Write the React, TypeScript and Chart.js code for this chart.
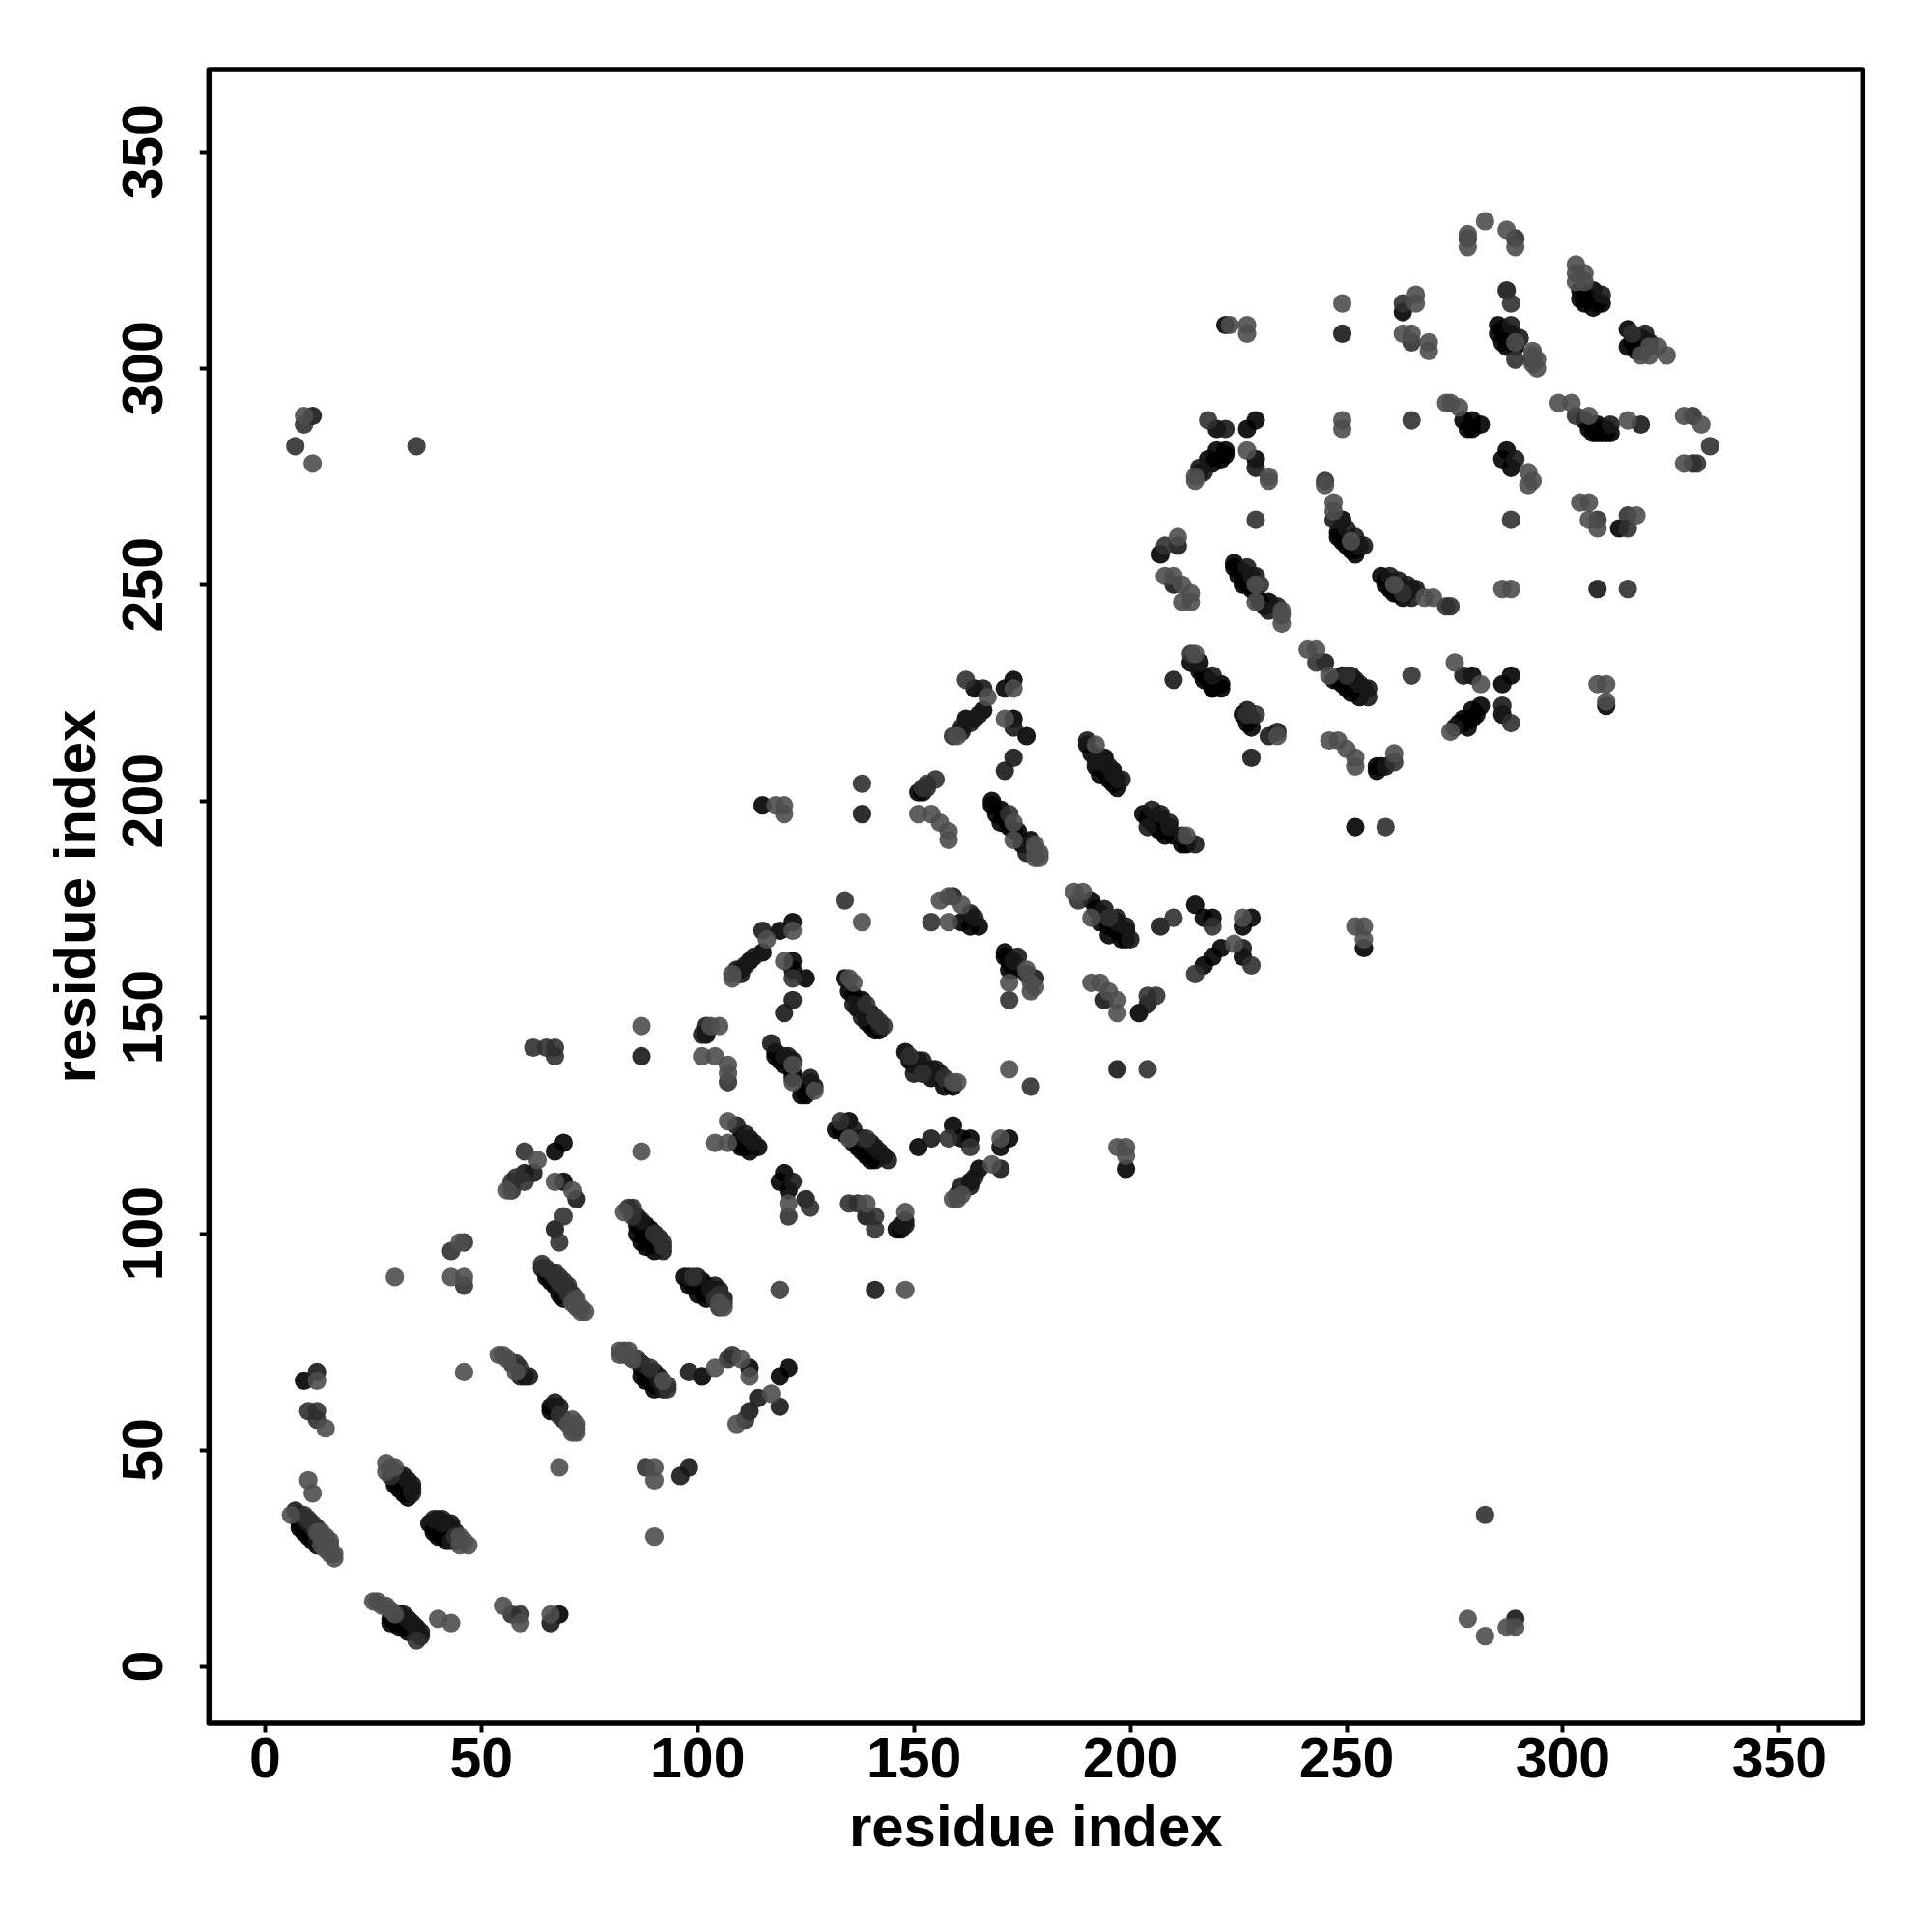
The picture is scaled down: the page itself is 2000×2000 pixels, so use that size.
import React, { useEffect, useRef } from "react";
import { Chart, registerables } from "chart.js";

Chart.register(...registerables);

const tickValues = [0, 50, 100, 150, 200, 250, 300, 350];
const axisTitle = "residue index";

const blackPoints = [
  [8,33],[9,32],[10,31],[11,30],
  [30,43],[31,42],[31,44],[32,43],[32,41],[33,42],[33,40],
  [38,33],[39,32],[40,31],[41,30],[42,33],[42,31],[43,32],
  [29,11],[30,11],[32,9],[35,9],[68,12],
  [60,67],[66,60],[66,59],[67,59],[9,66],
  [87,69],[88,68],[89,66],[90,65],[91,65],[101,67],[112,69],[119,67],[121,69],
  [86,102],[87,101],[88,102],[88,100],[89,101],[89,99],[90,98],[91,97],
  [97,90],[99,88],[100,88],[101,89],[101,87],[102,88],[102,86],
  [65,91],[66,90],[67,89],[69,87],[115,199],[151,202],
  [161,172],[163,171],[165,171],[119,170],[122,172],[115,165],[112,163],
  [122,163],[122,161],[125,159],
  [134,159],[138,154],[140,151],[141,147],[118,142],[122,137],[126,135],[125,132],
  [148,142],[151,140],[154,138],[159,134],
  [110,122],[114,120],[112,119],[135,126],[132,124],[137,122],[138,119],[143,118],[140,117],
  [151,120],[159,125],[161,122],[163,122],[170,120],[172,122],[165,115],[163,112],
  [67,119],[69,121],[69,112],[120,114],[119,112],[121,110],[146,101],
  [164,226],[171,226],[173,228],[166,221],[162,219],[173,219],[176,215],
  [168,200],[170,198],[170,195],[173,193],[177,191],
  [190,213],[194,210],[196,207],[193,206],[197,203],
  [203,197],[207,196],[207,193],[213,190],[214,232],[217,228],[219,226],[221,226],
  [226,220],[228,217],[249,229],[191,177],[193,172],[195,169],[199,170],[198,168],
  [215,176],[217,173],[219,173],[226,171],[228,173],[221,166],[219,164],[217,162],[226,164],
  [171,165],[172,161],[202,151],[199,115],
  [304,318],[307,318],[304,316],[309,315],[306,316],[263,313],[222,310],
  [285,310],[285,308],[288,308],[287,305],[315,309],[318,307],[315,305],[317,304],
  [220,286],[227,286],[229,288],[222,281],[220,281],[218,279],[229,279],
  [277,288],[279,288],[281,287],[279,286],[308,287],[305,288],[310,286],[307,285],[308,285],
  [287,281],[286,279],[288,277],[313,263],[249,265],[248,261],[250,259],[252,258],
  [258,252],[259,250],[265,249],[261,248],[224,255],[226,253],[224,254],[226,251],[229,248],[232,246],
  [207,257],[217,229],[221,227],[219,226],[249,227],[254,226],[252,226],[279,229],
  [286,227],[288,229],[281,222],[279,221],[277,219],[276,218],[286,220],[310,222],[257,208],[252,194],[254,166],
];

const blackEdgePoints = [
  [8,32],[9,31],[10,30],[11,29],[12,28],[30,42],[31,41],[32,40],[33,39],[39,31],[40,30],[42,29],
  [29,10],[31,9],[33,8],[87,67],[88,66],[90,64],[86,100],[87,98],[88,97],[90,96],
  [98,88],[100,86],[102,85],[65,90],[66,89],[67,88],[68,86],[69,85],
  [135,156],[136,155],[137,152],[139,149],[140,148],[142,147],
  [118,141],[119,140],[120,139],[122,136],[124,132],[125,133],
  [149,140],[150,139],[152,137],[154,136],[157,134],
  [133,124],[134,123],[136,121],[137,120],[139,118],[141,117],[109,121],[110,120],[111,120],
  [168,199],[169,197],[171,196],[172,194],[174,193],[175,190],
  [191,211],[192,208],[194,207],[195,205],[196,204],
  [204,196],[205,195],[206,194],[208,192],[210,192],[212,190],
  [192,175],[193,174],[195,171],[197,170],[199,168],[171,164],[172,163],[173,161],
  [216,230],[218,228],[219,227],[227,218],[228,219],
  [225,252],[226,250],[227,250],[228,249],[230,246],[231,245],
  [248,262],[249,260],[251,258],[252,257],[259,251],[260,249],[262,248],[263,247],
  [247,228],[248,228],[250,226],[251,225],[253,224],
  [286,306],[287,307],[289,305],[286,309],[305,315],[307,314],[308,315],
  [316,306],[317,305],[318,304],[278,286],[306,286],[308,286],[309,285],[310,285],[311,285],
  [277,218],[278,217],[280,220],[279,219],[219,278],[221,279],[222,280],
  [152,202],[257,207],[258,208],[102,146],[147,101],
];

const darkPoints = [
  [7,36],[8,35],[9,34],[10,33],[11,32],[12,29],
  [34,41],[34,40],[39,34],[40,34],[41,33],[43,29],[44,29],
  [31,12],[33,11],[36,7],[66,10],[12,68],
  [61,67],[59,67],[67,61],[68,60],[69,57],
  [96,44],[98,46],[98,68],[112,59],[114,62],[119,60],
  [87,70],[90,68],[91,67],[92,64],[86,104],[87,103],[90,100],[91,99],[92,96],
  [98,90],[100,90],[103,87],[104,87],[106,85],
  [64,92],[66,91],[68,88],[138,197],[87,141],
  [163,174],[159,178],[164,173],[115,170],[110,161],[122,154],[120,151],
  [136,153],[138,150],[142,148],[117,144],[120,141],[150,137],
  [101,146],[102,148],[109,125],[112,122],[141,120],[144,117],[154,122],[170,115],
  [62,114],[60,114],[72,108],[67,101],[122,112],[125,108],[139,104],[148,102],[141,87],
  [166,226],[161,217],[173,217],[173,210],[171,207],[176,188],
  [190,214],[192,209],[197,205],[205,198],[204,194],[209,194],[215,190],[210,228],[216,232],
  [227,221],[232,215],[228,210],[245,232],[197,172],[200,168],[207,171],
  [226,166],[173,163],[178,159],[194,154],[204,153],[197,138],[309,317],[287,318],[249,308],
  [222,286],[216,277],[229,277],[318,287],[289,279],[247,265],[253,259],[260,252],
  [265,247],[308,249],[228,252],[232,244],[211,259],[210,250],[214,232],[216,232],[219,229],
  [234,216],[252,228],[255,224],[277,229],[286,222],[259,208],
  [11,289],[289,11],
];

const darkEdgePoints = [
  [32,44],[33,43],[34,42],[41,34],[43,33],[44,31],[32,12],[34,10],[35,8],[36,8],
  [92,65],[91,66],[104,88],[105,87],
  [121,141],[122,140],[126,136],[127,134],[152,140],[155,138],[156,137],
  [136,124],[138,122],[140,121],[142,119],[111,123],[113,121],[176,190],
  [193,210],[195,208],[196,206],[198,205],[207,197],[209,195],[212,192],
  [194,175],[197,173],[199,171],[174,164],[176,160],
  [227,254],[229,252],[234,245],[250,263],[252,261],[254,259],[262,251],[264,250],[266,249],
  [251,229],[253,227],[255,226],[288,310],[290,307],[319,308],[320,306],[311,287],
  [275,217],[217,276],[216,276],[109,161],[111,162],[113,164],[110,160],
  [160,109],[161,111],[163,111],[164,113],[161,216],[163,218],[164,219],[165,220],[147,102],[148,103],
];

const midPoints = [
  [29,44],[44,30],[57,12],[59,12],[35,6],[10,59],[12,59],[12,57],[43,96],[46,98],[46,88],
  [57,70],[58,70],[59,69],[68,58],[88,46],[107,71],[108,72],[111,57],
  [85,71],[86,71],[89,69],[93,64],[84,106],[85,104],[85,106],[92,98],[99,90],[104,85],[105,86],
  [64,93],[65,92],[67,90],[68,89],[69,88],[70,86],[70,87],[71,85],[60,112],[62,143],[65,143],[67,143],[67,141],
  [138,204],[153,204],[155,205],[134,177],[154,172],[172,197],[122,159],[149,141],[152,137],[157,136],
  [133,126],[139,122],[163,120],[158,122],[60,119],[57,112],[69,104],[68,98],[126,106],[121,104],
  [135,107],[137,107],[141,104],[141,101],[107,135],
  [162,228],[159,215],[214,234],[229,220],[188,177],[195,173],[210,173],[219,171],[228,162],[215,160],
  [172,154],[204,155],[206,155],[177,134],[204,138],
  [278,330],[289,330],[263,315],[288,315],[265,306],[293,302],[289,302],[316,308],[218,288],
  [265,288],[303,289],[330,289],[334,282],[330,278],[331,278],[7,282],[9,287],[35,282],[282,35],
  [315,263],[315,266],[308,265],[288,265],[229,265],[245,274],[263,248],[273,245],[274,245],
  [315,249],[208,259],[243,232],[250,229],[265,229],[288,218],[227,220],[261,209],[259,194],
];

const midEdgePoints = [
  [9,35],[10,34],[11,33],[12,32],[93,65],[90,100],[91,99],[92,97],[106,84],[105,83],
  [67,91],[68,90],[69,89],[70,88],[71,86],[72,84],[139,153],[141,150],[142,149],[143,148],
  [230,250],[57,110],[58,113],[152,203],[153,203],
];

const lightPoints = [
  [6,35],[12,31],[13,30],[13,28],[14,29],[14,27],[15,28],[15,26],[16,26],[16,25],
  [10,43],[11,40],[28,47],[28,45],[29,46],[30,46],
  [45,30],[45,28],[46,29],[47,28],
  [25,15],[26,15],[27,14],[28,14],[29,13],[30,12],[40,11],[43,10],[55,14],[59,10],[66,12],
  [12,66],[14,55],[30,90],[45,98],[43,90],[46,90],[46,68],
  [54,72],[55,72],[56,71],[58,68],[70,56],[71,57],[71,55],[72,54],
  [68,46],[90,46],[90,43],[90,30],
  [82,73],[83,73],[82,72],[83,72],[84,73],[84,72],[85,71],[92,66],
  [104,69],[110,71],[112,67],[109,56],[117,63],[119,87],[83,105],
  [105,84],[106,83],[71,84],[72,85],[72,83],[73,83],[73,82],[74,82],
  [118,199],[120,199],[120,197],[151,197],[154,197],[156,195],[158,193],[158,191],[138,172],
  [156,177],[158,178],[161,176],[158,172],[122,170],[116,168],[108,160],[108,159],[120,163],
  [135,159],[136,158],[87,148],[103,148],[105,148],[101,141],[104,141],[107,139],[107,137],
  [122,139],[122,135],[127,133],[159,135],[172,138],[107,126],[104,121],[107,121],[135,122],
  [170,122],[168,116],[159,108],[63,117],[56,110],[67,112],[71,110],[87,119],[121,107],[139,107],
  [148,105],[119,87],[148,87],[173,226],[167,224],[171,219],[173,195],[173,191],[178,189],[179,187],
  [192,213],[213,192],[215,234],[234,215],[241,235],[243,235],[187,179],[189,179],[191,173],
  [224,167],[226,173],[176,161],[177,156],[172,158],[191,158],[193,158],[195,156],[197,154],[197,151],
  [197,120],[199,120],[199,118],
  [282,334],[287,332],[278,331],[278,328],[289,328],
  [303,324],[303,322],[303,320],[305,322],[305,320],[266,317],[266,315],[249,315],[223,310],[227,310],[227,308],
  [263,308],[265,308],[269,306],[269,304],[289,306],[293,303],[293,301],
  [320,305],[322,305],[324,303],[318,303],[320,303],
  [215,275],[215,274],[227,281],[232,275],[232,274],[249,288],[249,286],
  [273,292],[274,292],[276,291],[299,292],[302,292],[306,289],[315,288],[328,289],[332,287],[328,278],
  [292,276],[293,274],[292,273],[304,269],[306,269],[306,265],[308,263],[317,266],[245,273],
  [247,269],[247,267],[251,260],[261,250],[268,247],[270,247],[286,249],[288,249],
  [229,250],[229,246],[235,244],[235,241],[211,261],[208,252],[210,252],[212,250],[214,248],[212,246],[214,246],
  [246,229],[275,232],[281,227],[274,216],[308,227],[310,227],[310,223],
  [246,214],[248,214],[250,212],[252,210],[252,208],[261,211],
  [252,171],[254,171],[254,168],[9,289],[11,278],[278,11],[282,7],[287,9],[289,9],
];

const lightEdgePoints = [
  [13,31],[14,30],[15,29],[72,56],[72,55],[71,54],[160,135],[178,190],[179,188],[178,187],
  [177,158],[178,157],[235,243],[293,304],[294,302],[294,300],[160,108],[161,109],[160,215],
];

const toXY = (list: number[][]) => list.map(([x, y]) => ({ x, y }));

const frame = {
  id: "frame",
  afterDraw(chart: any) {
    const { ctx, chartArea: a } = chart;
    ctx.save();
    ctx.strokeStyle = "#000";
    ctx.lineWidth = 5.5;
    ctx.lineJoin = "round";
    ctx.strokeRect(a.left, a.top, a.right - a.left, a.bottom - a.top);
    ctx.restore();
  },
};

const fontFamily = "'Liberation Sans', Arial, sans-serif";

function axis(extra: any) {
  return {
    type: "linear",
    afterBuildTicks: (s: any) => {
      s.ticks = tickValues.map((value) => ({ value }));
    },
    grid: {
      display: true,
      drawOnChartArea: false,
      drawTicks: true,
      tickLength: 9.5,
      tickWidth: 4,
      tickColor: "#000",
    },
    border: { display: false },
    ...extra,
  };
}

export default function App() {
  const ref = useRef<HTMLCanvasElement>(null);
  useEffect(() => {
    const series = [
      { label: "k", pts: [...blackPoints, ...blackEdgePoints], c: "rgba(0,0,0,0.9)" },
      { label: "d", pts: [...darkPoints, ...darkEdgePoints], c: "rgba(23,23,23,0.9)" },
      { label: "m", pts: [...midPoints, ...midEdgePoints], c: "rgba(48,48,48,0.9)" },
      { label: "l", pts: [...lightPoints, ...lightEdgePoints], c: "rgba(78,78,78,0.9)" },
    ];
    const chart = new Chart(ref.current!, {
      type: "scatter",
      data: {
        datasets: series.map((s, i) => ({
          label: s.label,
          data: toXY(s.pts),
          backgroundColor: s.c,
          borderWidth: 0,
          pointRadius: 9.6,
          order: series.length - i,
        })),
      },
      options: {
        animation: false,
        responsive: false,
        devicePixelRatio: 1,
        layout: { padding: { top: 72, right: 71.7, left: 0, bottom: 0 } },
        plugins: { legend: { display: false }, tooltip: { enabled: false } },
        scales: {
          x: axis({
            min: -12.97,
            max: 369.3,
            afterFit: (s: any) => {
              s.height = 216;
            },
            ticks: {
              color: "#000",
              padding: 1,
              autoSkip: false,
              maxRotation: 0,
              minRotation: 0,
              font: { family: fontFamily, weight: "bold", size: 59, lineHeight: 1 },
            },
            title: {
              display: true,
              text: axisTitle,
              color: "#000",
              padding: { top: 0, bottom: 76 },
              font: { family: fontFamily, weight: "bold", size: 60, lineHeight: 1 },
            },
          }),
          y: axis({
            min: -13.17,
            max: 369.05,
            afterFit: (s: any) => {
              s.width = 216.3;
            },
            ticks: {
              color: "#000",
              padding: 6,
              autoSkip: false,
              minRotation: 90,
              maxRotation: 90,
              align: "center",
              crossAlign: "center",
              font: { family: fontFamily, weight: "bold", size: 59, lineHeight: 1 },
            },
            title: {
              display: true,
              text: axisTitle,
              color: "#000",
              padding: { top: 51, bottom: 0 },
              font: { family: fontFamily, weight: "bold", size: 60, lineHeight: 1 },
            },
          }),
        },
      } as any,
      plugins: [frame],
    });
    return () => chart.destroy();
  }, []);
  return (
    <canvas
      ref={ref}
      width={2000}
      height={2000}
      style={{ position: "absolute", left: 0, top: 0, width: 2000, height: 2000 }}
    />
  );
}
